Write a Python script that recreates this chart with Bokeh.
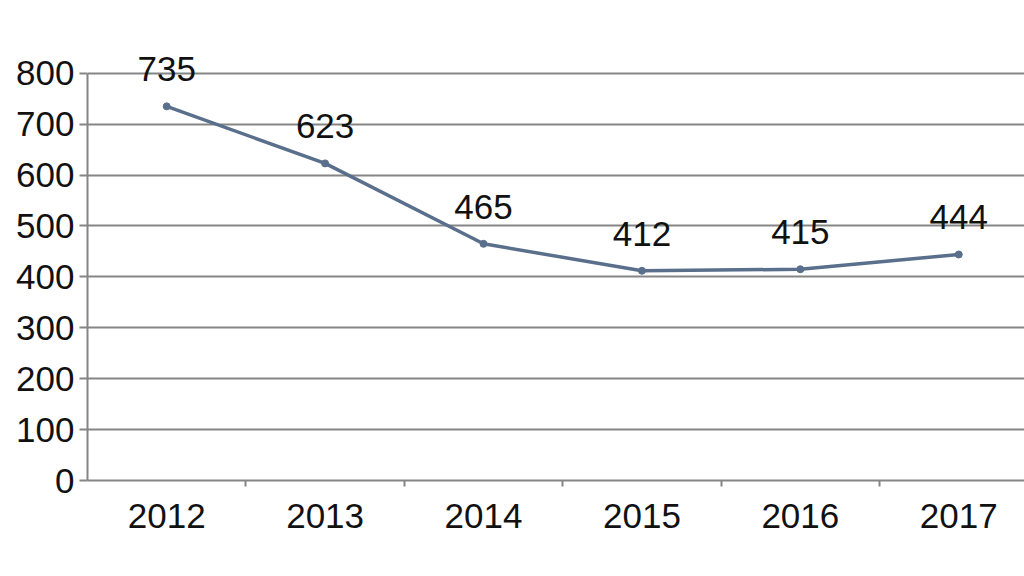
from bokeh.plotting import figure
from bokeh.models import Range1d, FixedTicker, ColumnDataSource, LabelSet
from bokeh.core.properties import value
from bokeh.embed import file_html
from bokeh.resources import INLINE

years = ["2012", "2013", "2014", "2015", "2016", "2017"]
values = [735, 623, 465, 412, 415, 444]
y_ticks = [0, 100, 200, 300, 400, 500, 600, 700, 800]

xs = list(range(len(years)))
src = ColumnDataSource(dict(x=xs, y=values, lab=[str(v) for v in values]))

p = figure(width=1024, height=570, output_backend="svg", toolbar_location=None,
           x_range=Range1d(-0.5, 5.415), y_range=Range1d(0, 943),
           min_border_left=87, min_border_right=0, min_border_top=0, min_border_bottom=90)
p.outline_line_color = None
p.background_fill_color = "white"
p.border_fill_color = "white"

grid_col = "#858585"
font = "Liberation Sans"

p.xgrid.grid_line_color = None
p.ygrid.grid_line_color = grid_col
p.ygrid.grid_line_width = 2
p.ygrid.ticker = FixedTicker(ticks=y_ticks)

p.yaxis.ticker = FixedTicker(ticks=y_ticks)
p.yaxis.bounds = (0, 800)
p.yaxis.axis_line_color = grid_col
p.yaxis.axis_line_width = 2
p.yaxis.major_tick_line_color = grid_col
p.yaxis.major_tick_line_width = 2
p.yaxis.major_tick_out = 8
p.yaxis.major_tick_in = 0
p.yaxis.minor_tick_line_color = None
p.yaxis.major_label_text_font = font
p.yaxis.major_label_text_font_size = "35px"
p.yaxis.major_label_text_color = "#111111"
p.yaxis.major_label_standoff = 5

boundaries = [i + 0.5 for i in xs[:-1]]
p.xaxis.ticker = FixedTicker(ticks=xs, minor_ticks=boundaries)
p.xaxis.major_label_overrides = {i: y for i, y in zip(xs, years)}
p.xaxis.axis_line_color = grid_col
p.xaxis.axis_line_width = 2
p.xaxis.major_tick_line_color = None
p.xaxis.minor_tick_line_color = grid_col
p.xaxis.minor_tick_line_width = 2
p.xaxis.minor_tick_out = 6
p.xaxis.minor_tick_in = 0
p.xaxis.major_label_text_font = font
p.xaxis.major_label_text_font_size = "35px"
p.xaxis.major_label_text_color = "#111111"
p.xaxis.major_label_standoff = 17

line_col = "#5a6f8c"
p.line("x", "y", source=src, line_color=line_col, line_width=3.5)
p.scatter("x", "y", source=src, size=7, fill_color=line_col, line_color=line_col)

labels = LabelSet(x="x", y="y", text="lab", source=src, text_align="center",
                  text_baseline="alphabetic", y_offset=25,
                  text_font=value(font), text_font_size=value("35px"), text_color="#111111")
p.add_layout(labels)

open("out.html", "w").write(file_html(p, INLINE))
